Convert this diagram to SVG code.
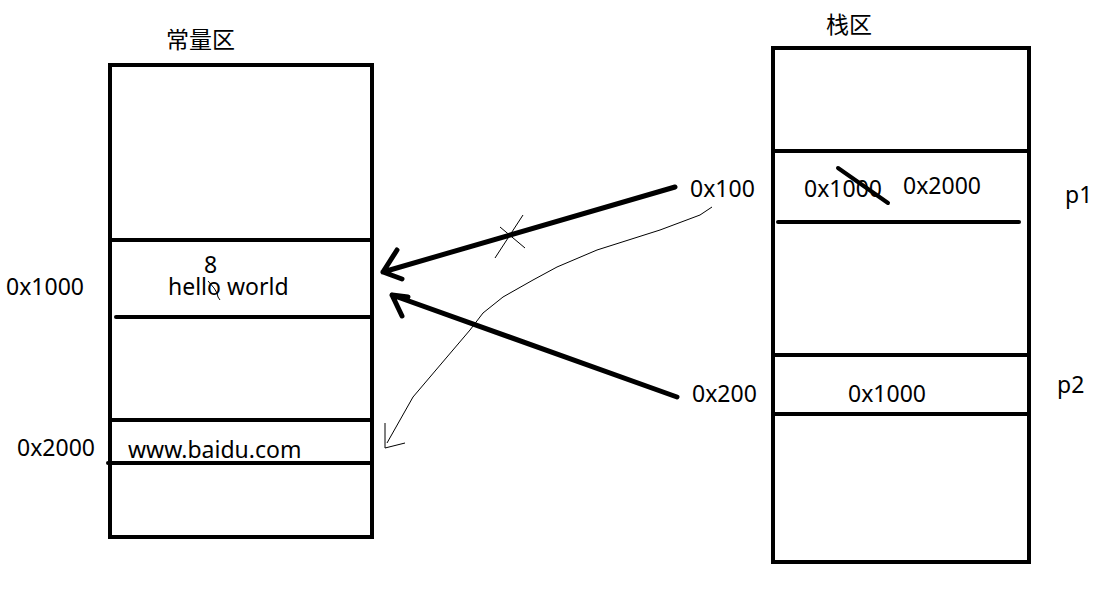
<svg xmlns="http://www.w3.org/2000/svg" width="1110" height="608" viewBox="0 0 1110 608">
<style>
.box{fill:none;stroke:#000;stroke-width:4}
.ln{stroke:#000;stroke-width:4;stroke-linecap:round}
.arr{fill:none;stroke:#000;stroke-width:5;stroke-linecap:round;stroke-linejoin:round}
.thin{fill:none;stroke:#000;stroke-width:1}
text{font-family:"Noto Sans","Noto Sans CJK SC",sans-serif;font-size:23px;fill:#000}
</style>
<rect width="1110" height="608" fill="#fff"/>
<g id="const-area">
<rect class="box" x="110" y="65" width="262" height="472"/>
<line class="ln" x1="110" y1="240" x2="372" y2="240"/>
<line class="ln" x1="116" y1="317" x2="372" y2="317"/>
<line class="ln" x1="110" y1="420" x2="372" y2="420"/>
<line class="ln" x1="108" y1="463" x2="372" y2="463"/>
<text x="166" y="48" font-size="20">常量区</text>
<text x="6" y="295">0x1000</text>
<text x="17" y="456">0x2000</text>
<text x="204" y="273">8</text>
<text x="168" y="295">hello world</text>
<text x="128" y="458">www.baidu.com</text>
<path class="thin" d="M208,281 L214,288 L217,293 L218,297 L220,300"/>
</g>
<g id="stack-area">
<rect class="box" x="773" y="48" width="256" height="514"/>
<line class="ln" x1="773" y1="151" x2="1029" y2="151"/>
<line class="ln" x1="778" y1="222" x2="1019" y2="222"/>
<line class="ln" x1="773" y1="355" x2="1029" y2="355"/>
<line class="ln" x1="773" y1="414" x2="1029" y2="414"/>
<text x="826" y="33" font-size="20">栈区</text>
<text x="804" y="197">0x1000</text>
<text x="903" y="194">0x2000</text>
<text x="1065" y="203">p1</text>
<text x="848" y="402">0x1000</text>
<text x="1057" y="393">p2</text>
<line class="ln" x1="838" y1="168" x2="888" y2="203"/>
</g>
<g id="labels">
<text x="690" y="197">0x100</text>
<text x="692" y="402">0x200</text>
</g>
<g id="connectors">
<path class="arr" d="M675,187 L383,272 M397,250 L383,272 L402,279"/>
<path class="thin" d="M495,258 L523,215 M500,227 L525,248"/>
<path class="arr" d="M677,397 L392,295 M408,297 L392,295 L402,316"/>
<path class="thin" d="M712,207 L700,215 L660,230 L597,250 L557,267 L533,280 L503,297 L483,313 L470,330 L447,357 L430,377 L413,397 L400,420 L387,443"/>
<path class="thin" d="M385,423 L385,448 L405,443"/>
</g>
</svg>
